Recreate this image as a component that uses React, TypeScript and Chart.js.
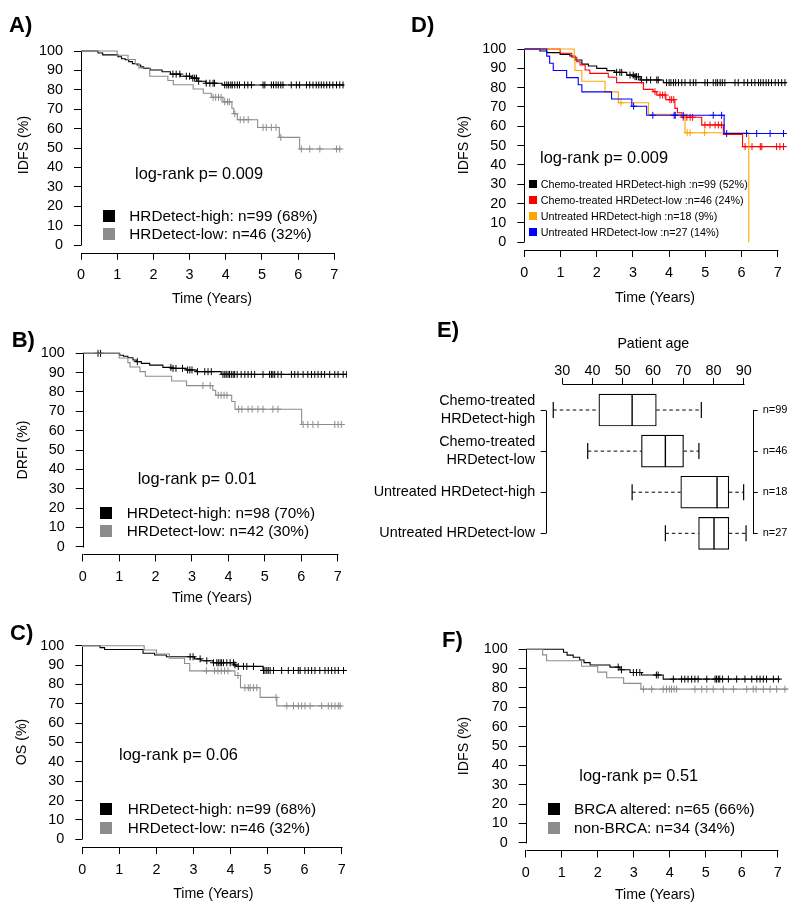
import React, { useEffect, useRef } from 'react';
import { Chart, registerables } from 'chart.js';
Chart.register(...registerables);

const FONT = '"Liberation Sans", Arial, Helvetica, sans-serif';
Chart.defaults.font.family = FONT;

const BLACK = '#000000';
const GREY = '#8c8c8c';
const RED = '#ff0000';
const ORANGE = '#ffa500';
const BLUE = '#0000ff';

const X_TICKS = [0, 1, 2, 3, 4, 5, 6, 7];
const Y_TICKS = [0, 10, 20, 30, 40, 50, 60, 70, 80, 90, 100];
const AGE_TICKS = [30, 40, 50, 60, 70, 80, 90];

// ---------- Panel A (IDFS) ----------
const A_HIGH_T = [0, 0.47, 0.6, 1.02, 1.12, 1.22, 1.32, 1.42, 1.55, 1.65, 1.73, 1.91, 2.24, 2.47, 2.75, 3.05, 3.23, 3.45, 3.9, 7.28];
const A_HIGH_S = [100, 99, 98, 97, 96, 95.5, 94.5, 93.5, 92.8, 91.8, 91, 90.2, 89.3, 88.1, 87, 86, 84.4, 83.4, 82.5, 82.5];
const A_HIGH_C = [2.54, 2.63, 2.73, 2.91, 3.0, 3.09, 3.14, 3.19, 3.25, 3.46, 3.56, 3.65, 3.69, 3.97, 4.03, 4.08, 4.14, 4.18, 4.25, 4.32, 4.38, 4.52, 4.61, 4.71, 5.03, 5.08, 5.26, 5.32, 5.39, 5.45, 5.52, 5.58, 5.81, 5.95, 6.04, 6.23, 6.32, 6.41, 6.5, 6.57, 6.64, 6.71, 6.79, 6.87, 6.96, 7.06, 7.15, 7.24];
const A_LOW_T = [0, 1.0, 1.3, 1.5, 1.6, 1.9, 2.4, 2.55, 3.1, 3.38, 3.6, 3.92, 4.17, 4.22, 4.32, 4.88, 5.48, 6.04, 7.2];
const A_LOW_S = [100, 97.8, 95.6, 93.5, 91.3, 87.0, 84.8, 82.6, 80.4, 78.2, 76.1, 73.8, 70.5, 67.7, 64.6, 60.6, 55.5, 49.5, 49.5];
const A_LOW_C = [3.65, 3.72, 3.8, 3.87, 3.97, 4.05, 4.1, 4.25, 4.4, 4.5, 4.62, 5.03, 5.12, 5.26, 5.39, 5.52, 6.09, 6.32, 6.6, 7.06, 7.15];

// ---------- Panel B (DRFI) ----------
const B_HIGH_T = [0, 1.015, 1.12, 1.24, 1.38, 1.47, 1.61, 1.84, 2.2, 2.45, 2.84, 3.12, 3.8, 7.25];
const B_HIGH_S = [100, 99, 98.5, 97.7, 96.5, 95.7, 94.8, 93.9, 92.7, 92.2, 91.4, 90.5, 89.1, 89.1];
const B_HIGH_C = [0.42, 0.49, 1.5, 2.42, 2.48, 2.56, 2.74, 2.88, 2.94, 3.0, 3.15, 3.35, 3.44, 3.53, 3.85, 3.9, 3.94, 3.99, 4.03, 4.08, 4.13, 4.17, 4.24, 4.35, 4.45, 4.54, 4.63, 4.72, 4.95, 5.13, 5.18, 5.22, 5.27, 5.36, 5.45, 5.73, 5.82, 5.91, 6.05, 6.18, 6.28, 6.37, 6.46, 6.55, 6.64, 6.78, 6.92, 7.01, 7.15, 7.24];
const B_LOW_T = [0, 1.0, 1.24, 1.3, 1.57, 1.72, 2.44, 2.85, 3.57, 3.65, 4.09, 4.18, 6.01, 7.15];
const B_LOW_S = [100, 97.6, 95.2, 92.9, 90.5, 88.1, 85.7, 83.3, 80.9, 78.3, 75.1, 71.1, 63.2, 63.2];
const B_LOW_C = [3.3, 3.5, 3.72, 3.8, 3.88, 3.96, 4.28, 4.37, 4.54, 4.65, 4.81, 4.95, 5.22, 5.36, 6.05, 6.18, 6.32, 6.46, 6.92, 7.01, 7.1];

// ---------- Panel C (OS) ----------
const C_HIGH_T = [0, 0.48, 0.6, 1.64, 1.95, 2.27, 3.03, 3.2, 3.53, 4.1, 4.15, 4.88, 7.14];
const C_HIGH_S = [100, 99, 98, 96.1, 95.2, 94.3, 93.2, 92.2, 91.2, 90.1, 89.3, 87.2, 87.2];
const C_HIGH_C = [2.91, 2.99, 3.18, 3.36, 3.54, 3.63, 3.67, 3.72, 3.76, 3.81, 3.9, 3.99, 4.08, 4.12, 4.21, 4.35, 4.44, 4.62, 4.89, 4.93, 4.98, 5.02, 5.07, 5.16, 5.38, 5.56, 5.7, 5.83, 5.88, 6.01, 6.1, 6.19, 6.28, 6.41, 6.55, 6.64, 6.73, 6.82, 6.91, 7.05];
const C_LOW_T = [0, 1.67, 2.0, 2.35, 2.76, 2.9, 4.12, 4.27, 4.8, 5.25, 7.0];
const C_LOW_S = [100, 97.8, 95.7, 93.5, 90.8, 87.0, 84.6, 78.3, 73.3, 68.9, 68.9];
const C_LOW_C = [3.35, 3.57, 3.66, 3.75, 3.84, 3.93, 4.2, 4.39, 4.48, 4.53, 4.62, 4.71, 5.23, 5.52, 5.7, 5.83, 5.92, 6.01, 6.15, 6.46, 6.64, 6.73, 6.82, 6.91, 6.96];

// ---------- Panel D (IDFS, 4 groups) ----------
const D_BLACK_T = [0, 0.43, 0.62, 0.99, 1.26, 1.4, 1.59, 1.77, 2.0, 2.28, 2.5, 2.83, 3.06, 3.2, 3.84, 7.26];
const D_BLACK_S = [100, 99, 98.1, 97.2, 96.4, 94.3, 92.2, 91.2, 90, 88.8, 87.9, 86.5, 85.7, 84, 82.6, 82.6];
const D_BLACK_C = [2.55, 2.64, 2.69, 2.92, 3.01, 3.06, 3.1, 3.15, 3.24, 3.38, 3.49, 3.66, 3.7, 3.93, 4.0, 4.05, 4.12, 4.18, 4.26, 4.35, 4.44, 4.58, 4.67, 4.74, 4.99, 5.06, 5.22, 5.29, 5.34, 5.41, 5.47, 5.54, 5.82, 5.91, 6.07, 6.17, 6.28, 6.37, 6.47, 6.53, 6.6, 6.68, 6.75, 6.83, 6.93, 7.02, 7.11, 7.2];
const D_RED_T = [0, 0.99, 1.31, 1.45, 1.54, 1.68, 1.81, 2.32, 2.55, 3.29, 3.56, 3.66, 3.91, 4.16, 4.23, 4.35, 4.9, 5.5, 6.03, 7.2];
const D_RED_S = [100, 97.8, 95.7, 93.4, 91.7, 89.1, 87.4, 85.4, 82.6, 79.1, 77.9, 76.2, 73.8, 69.3, 67, 64.7, 60.7, 55.8, 49.5, 49.5];
const D_RED_C = [3.61, 3.75, 3.82, 3.89, 4.02, 4.07, 4.13, 4.39, 4.49, 4.58, 4.65, 4.99, 5.13, 5.27, 5.36, 5.45, 6.1, 6.29, 6.52, 6.56, 6.97, 7.06, 7.16];
const D_ORANGE_T = [0, 1.38, 1.4, 1.59, 2.23, 2.6, 3.43, 4.44, 6.2];
const D_ORANGE_S = [100, 94.4, 88.9, 83.3, 77.8, 72.2, 66.2, 56.7, 0];
const D_ORANGE_C = [2.67, 4.5, 4.58, 4.98];
const D_BLUE_T = [0, 0.62, 0.7, 0.8, 1.17, 1.49, 1.59, 2.41, 2.97, 3.38, 5.52, 7.2];
const D_BLUE_S = [100, 96.3, 92.6, 88.9, 85.2, 81.5, 77.8, 74.1, 70.4, 65.7, 56.3, 56.3];
const D_BLUE_C = [3.02, 3.55, 4.14, 4.17, 4.39, 5.22, 5.45, 5.59, 6.14, 6.42, 6.79, 7.16];

// ---------- Panel E (age boxplot) ----------
const E_ROWS = [['Chemo-treated', 'HRDetect-high'], ['Chemo-treated', 'HRDetect-low'], 'Untreated HRDetect-high', 'Untreated HRDetect-low'];
const E_N = ['n=99', 'n=46', 'n=18', 'n=27'];
const E_LOW = [27.0, 38.4, 53.1, 64.1];
const E_Q1 = [42.1, 56.2, 69.2, 75.1];
const E_MED = [53.1, 64.1, 81.2, 80.2];
const E_Q3 = [61.1, 70.1, 85.1, 85.1];
const E_HIGH = [76.0, 75.2, 90.0, 90.8];

// ---------- Panel F (IDFS by BRCA) ----------
const F_BLACK_T = [0, 1.05, 1.15, 1.32, 1.5, 1.62, 1.79, 2.34, 2.62, 2.9, 3.22, 3.82, 7.06];
const F_BLACK_S = [100, 98.5, 97, 95.9, 94.5, 93.1, 91.9, 90.8, 89.4, 88, 86.7, 84.6, 84.6];
const F_BLACK_C = [2.57, 2.66, 2.99, 3.08, 3.17, 3.63, 3.68, 4.1, 4.33, 4.42, 4.51, 4.61, 4.7, 4.79, 5.03, 5.26, 5.3, 5.35, 5.39, 5.47, 5.63, 5.86, 6.09, 6.28, 6.42, 6.51, 6.6, 6.69, 6.88, 7.02];
const F_GREY_T = [0, 0.47, 0.58, 1.55, 2.0, 2.25, 2.72, 3.2, 7.29];
const F_GREY_S = [100, 97.1, 94.1, 91.2, 88.2, 85.3, 82.4, 79.4, 79.4];
const F_GREY_C = [3.27, 3.5, 3.82, 3.91, 3.99, 4.05, 4.12, 4.19, 4.7, 4.89, 5.03, 5.21, 5.49, 5.77, 6.14, 6.32, 6.4, 6.6, 6.79, 6.97, 7.2];

type Curve = { t: number[]; s: number[]; c: number[]; color: string };
type Geo = { rect: [number, number, number, number]; x0: number; ppy: number; y100: number; y0: number; xmax: number };
type Seg = { scale: string; from: number; to: number; edge: 'left' | 'right' | 'top' | 'bottom' };

function survAt(t: number[], s: number[], x: number) {
  let v = s[0];
  for (let i = 0; i < t.length; i++) if (t[i] <= x) v = s[i];
  return v;
}

function axesPlugin(segs: Seg[]) {
  return {
    id: 'rAxes',
    afterDraw(chart: any) {
      const ctx = chart.ctx;
      const ca = chart.chartArea;
      ctx.save();
      ctx.strokeStyle = BLACK;
      ctx.lineWidth = 1;
      ctx.setLineDash([]);
      for (const sg of segs) {
        const sc = chart.scales[sg.scale];
        const a = sc.getPixelForValue(sg.from);
        const b = sc.getPixelForValue(sg.to);
        ctx.beginPath();
        if (sg.edge === 'top' || sg.edge === 'bottom') {
          const y = Math.round(sg.edge === 'top' ? ca.top : ca.bottom) + 0.5;
          ctx.moveTo(Math.round(a) + 0.5, y);
          ctx.lineTo(Math.round(b) + 0.5, y);
        } else {
          const x = Math.round(sg.edge === 'left' ? ca.left : ca.right) + 0.5;
          ctx.moveTo(x, Math.round(a) + 0.5);
          ctx.lineTo(x, Math.round(b) + 0.5);
        }
        ctx.stroke();
      }
      ctx.restore();
    },
  };
}

const tickGrid = (len: number) => ({ display: true, drawOnChartArea: false, drawTicks: true, tickLength: len, color: BLACK, lineWidth: 1, offset: false });

function kmConfig(geo: Geo, curves: Curve[]): any {
  const unit = (geo.y0 - geo.y100) / 100;
  const top = geo.y100 - 4 * unit;
  const bottom = geo.y0 + 4 * unit;
  const right = geo.x0 + geo.xmax * geo.ppy;
  const [rl, rt, rw, rh] = geo.rect;
  const WY = 55;
  const HX = 40;
  const padding = { left: geo.x0 - WY - rl, top: top - rt, right: rl + rw - right, bottom: rt + rh - bottom - HX };
  const datasets: any[] = [];
  curves.forEach((c, i) => {
    const order = curves.length - i;
    datasets.push({
      data: c.t.map((t, j) => ({ x: t, y: c.s[j] })),
      showLine: true, stepped: true, borderColor: c.color, borderWidth: 1.1,
      pointRadius: 0, pointHoverRadius: 0, fill: false, order,
    });
    datasets.push({
      data: c.c.map((t) => ({ x: t, y: survAt(c.t, c.s, t) })),
      showLine: false, pointStyle: 'cross', pointRadius: 3.5, pointHoverRadius: 3.5,
      pointBorderColor: c.color, pointBackgroundColor: c.color, pointBorderWidth: 1, order,
    });
  });
  const tickFont = { family: FONT, size: 14.4 };
  return {
    type: 'scatter',
    data: { datasets },
    options: {
      responsive: false, animation: false, events: [],
      layout: { padding },
      plugins: { legend: { display: false }, tooltip: { enabled: false } },
      scales: {
        x: {
          type: 'linear', min: 0, max: geo.xmax, position: 'bottom', offset: false,
          afterBuildTicks: (s: any) => { s.ticks = X_TICKS.map((v) => ({ value: v })); },
          afterFit: (s: any) => { s.height = HX; },
          grid: tickGrid(7), border: { display: false },
          ticks: { font: tickFont, color: BLACK, padding: 7, maxRotation: 0, autoSkip: false, callback: (v: any) => String(v) },
        },
        y: {
          type: 'linear', min: -4, max: 104, position: 'left', offset: false,
          afterBuildTicks: (s: any) => { s.ticks = Y_TICKS.map((v) => ({ value: v })); },
          afterFit: (s: any) => { s.width = WY; },
          grid: tickGrid(7), border: { display: false },
          ticks: { font: tickFont, color: BLACK, padding: 11, autoSkip: false, callback: (v: any) => String(v) },
        },
      },
    },
    plugins: [axesPlugin([
      { scale: 'x', from: 0, to: 7, edge: 'bottom' },
      { scale: 'y', from: 0, to: 100, edge: 'left' },
    ])],
  };
}

const E_RECT: [number, number, number, number] = [360, 320, 440, 266];

function boxConfig(): any {
  const [rl, rt, rw, rh] = E_RECT;
  const left = 545.7, right = 752.7, top = 384;
  const yMin = 0.367, yMax = 4.633, rowPx = 41.1;
  const bottom = top + (yMax - yMin) * rowPx;
  const HT = top - rt;
  const WL = left - rl;
  const WR = rl + rw - right;
  const padding = { left: 0, top: 0, right: 0, bottom: rt + rh - bottom };
  const datasets: any[] = [];
  datasets.push({
    type: 'scatter', data: E_MED.map((m, i) => ({ x: m, y: i + 1 })), showLine: false,
    pointStyle: 'line', pointRotation: 90, pointRadius: 16, pointHoverRadius: 16,
    pointBorderColor: BLACK, pointBorderWidth: 1.4, order: 0, xAxisID: 'x', yAxisID: 'y',
  });
  datasets.push({
    type: 'bar', data: E_Q1.map((q, i) => ({ y: i + 1, x: [q, E_Q3[i]] })),
    backgroundColor: '#ffffff', borderColor: BLACK, borderWidth: 1.2, borderSkipped: false,
    barThickness: 32, order: 1, xAxisID: 'x', yAxisID: 'y',
  });
  E_LOW.forEach((lo, i) => {
    datasets.push({
      type: 'line', data: [{ x: lo, y: i + 1 }, { x: E_Q1[i], y: i + 1 }],
      borderColor: BLACK, borderWidth: 1, borderDash: [3.5, 3], fill: false,
      pointStyle: 'line', pointRotation: 90, pointRadius: [8, 0], pointHoverRadius: 0,
      pointBorderColor: BLACK, pointBorderWidth: 1.2, order: 2, xAxisID: 'x', yAxisID: 'y',
    });
    datasets.push({
      type: 'line', data: [{ x: E_Q3[i], y: i + 1 }, { x: E_HIGH[i], y: i + 1 }],
      borderColor: BLACK, borderWidth: 1, borderDash: [3.5, 3], fill: false,
      pointStyle: 'line', pointRotation: 90, pointRadius: [0, 8], pointHoverRadius: 0,
      pointBorderColor: BLACK, pointBorderWidth: 1.2, order: 2, xAxisID: 'x', yAxisID: 'y',
    });
  });
  const rowTicks = (s: any) => { s.ticks = [1, 2, 3, 4].map((v) => ({ value: v })); };
  return {
    type: 'bar',
    data: { datasets },
    options: {
      indexAxis: 'y', responsive: false, animation: false, events: [],
      layout: { padding },
      plugins: { legend: { display: false }, tooltip: { enabled: false } },
      scales: {
        x: {
          type: 'linear', position: 'top', min: 24.5, max: 93, offset: false, beginAtZero: false,
          afterBuildTicks: (s: any) => { s.ticks = AGE_TICKS.map((v) => ({ value: v })); },
          afterFit: (s: any) => { s.height = HT; },
          grid: tickGrid(6), border: { display: false },
          ticks: { font: { family: FONT, size: 14.4 }, color: BLACK, padding: -2, maxRotation: 0, autoSkip: false, callback: (v: any) => String(v) },
        },
        y: {
          type: 'linear', position: 'left', min: yMin, max: yMax, reverse: true, offset: false, beginAtZero: false,
          afterBuildTicks: rowTicks,
          afterFit: (s: any) => { s.width = WL; },
          grid: tickGrid(5), border: { display: false },
          ticks: { font: { family: FONT, size: 14.4 }, color: BLACK, padding: 5.5, autoSkip: false, callback: (v: any) => E_ROWS[Math.round(v) - 1] },
        },
        y2: {
          type: 'linear', position: 'right', min: yMin, max: yMax, reverse: true, offset: false, beginAtZero: false,
          afterBuildTicks: rowTicks,
          afterFit: (s: any) => { s.width = WR; },
          grid: tickGrid(5), border: { display: false },
          ticks: { font: { family: FONT, size: 11 }, color: BLACK, padding: 5, autoSkip: false, callback: (v: any) => E_N[Math.round(v) - 1] },
        },
      },
    },
    plugins: [axesPlugin([
      { scale: 'x', from: 30, to: 90, edge: 'top' },
      { scale: 'y', from: 1, to: 4, edge: 'left' },
      { scale: 'y2', from: 1, to: 4, edge: 'right' },
    ])],
  };
}

const GEO_A: Geo = { rect: [0, 0, 400, 305], x0: 81, ppy: 36.19, y100: 51, y0: 245, xmax: 7.28 };
const GEO_B: Geo = { rect: [0, 305, 400, 300], x0: 82.7, ppy: 36.43, y100: 353.3, y0: 546.7, xmax: 7.25 };
const GEO_C: Geo = { rect: [0, 605, 400, 306], x0: 82.3, ppy: 37.05, y100: 645.7, y0: 839.3, xmax: 7.14 };
const GEO_D: Geo = { rect: [400, 0, 400, 305], x0: 524.3, ppy: 36.2, y100: 49, y0: 242.3, xmax: 7.26 };
const GEO_F: Geo = { rect: [400, 605, 400, 306], x0: 525.7, ppy: 36.0, y100: 649.3, y0: 842.7, xmax: 7.3 };

function ChartCanvas({ rect, make }: { rect: [number, number, number, number]; make: () => any }) {
  const ref = useRef<HTMLCanvasElement>(null);
  useEffect(() => {
    const chart = new Chart(ref.current as HTMLCanvasElement, make());
    return () => chart.destroy();
  }, []);
  return (
    <canvas ref={ref} width={rect[2]} height={rect[3]}
      style={{ position: 'absolute', left: rect[0], top: rect[1], width: rect[2], height: rect[3] }} />
  );
}

function T({ x, y, text, size = 14.4, bold = false, anchor = 'left', rot = false }:
  { x: number; y: number; text: string; size?: number; bold?: boolean; anchor?: 'left' | 'center' | 'right'; rot?: boolean }) {
  const tx = rot ? '-50%' : anchor === 'left' ? '0' : anchor === 'center' ? '-50%' : '-100%';
  return (
    <div style={{
      position: 'absolute', left: x, top: y, fontFamily: FONT, fontSize: size, fontWeight: bold ? 'bold' : 'normal',
      lineHeight: 1, whiteSpace: 'pre', color: BLACK,
      transform: `translate(${tx}, -50%)${rot ? ' rotate(-90deg)' : ''}`,
    }}>{text}</div>
  );
}

function Sq({ x, y, size, color }: { x: number; y: number; size: number; color: string }) {
  return <div style={{ position: 'absolute', left: x, top: y - size / 2, width: size, height: size, background: color }} />;
}

export default function App() {
  const LEG = 15.3;
  const PV = 16.4;
  const LET = 22;
  const TTL = 14.2;
  return (
    <div style={{ position: 'absolute', left: 0, top: 0, width: 800, height: 911, background: '#ffffff', overflow: 'hidden' }}>
      <ChartCanvas rect={GEO_A.rect} make={() => kmConfig(GEO_A, [
        { t: A_HIGH_T, s: A_HIGH_S, c: A_HIGH_C, color: BLACK },
        { t: A_LOW_T, s: A_LOW_S, c: A_LOW_C, color: GREY },
      ])} />
      <ChartCanvas rect={GEO_B.rect} make={() => kmConfig(GEO_B, [
        { t: B_HIGH_T, s: B_HIGH_S, c: B_HIGH_C, color: BLACK },
        { t: B_LOW_T, s: B_LOW_S, c: B_LOW_C, color: GREY },
      ])} />
      <ChartCanvas rect={GEO_C.rect} make={() => kmConfig(GEO_C, [
        { t: C_HIGH_T, s: C_HIGH_S, c: C_HIGH_C, color: BLACK },
        { t: C_LOW_T, s: C_LOW_S, c: C_LOW_C, color: GREY },
      ])} />
      <ChartCanvas rect={GEO_D.rect} make={() => kmConfig(GEO_D, [
        { t: D_BLACK_T, s: D_BLACK_S, c: D_BLACK_C, color: BLACK },
        { t: D_RED_T, s: D_RED_S, c: D_RED_C, color: RED },
        { t: D_ORANGE_T, s: D_ORANGE_S, c: D_ORANGE_C, color: ORANGE },
        { t: D_BLUE_T, s: D_BLUE_S, c: D_BLUE_C, color: BLUE },
      ])} />
      <ChartCanvas rect={E_RECT} make={boxConfig} />
      <ChartCanvas rect={GEO_F.rect} make={() => kmConfig(GEO_F, [
        { t: F_BLACK_T, s: F_BLACK_S, c: F_BLACK_C, color: BLACK },
        { t: F_GREY_T, s: F_GREY_S, c: F_GREY_C, color: GREY },
      ])} />

      {/* Panel A */}
      <T x={9} y={25} text="A)" size={LET} bold />
      <T x={135} y={173} text="log-rank p= 0.009" size={PV} />
      <Sq x={103} y={215.7} size={12} color={BLACK} />
      <T x={129.3} y={215.7} text="HRDetect-high: n=99 (68%)" size={LEG} />
      <Sq x={103} y={234} size={12} color={GREY} />
      <T x={129.3} y={234} text="HRDetect-low: n=46 (32%)" size={LEG} />
      <T x={212} y={298} text="Time (Years)" size={TTL} anchor="center" />
      <T x={23} y={145} text="IDFS (%)" size={TTL} rot />

      {/* Panel B */}
      <T x={11.7} y={340} text="B)" size={LET} bold />
      <T x={137.7} y={478} text="log-rank p= 0.01" size={PV} />
      <Sq x={100} y={513.3} size={12} color={BLACK} />
      <T x={126.7} y={513.3} text="HRDetect-high: n=98 (70%)" size={LEG} />
      <Sq x={100} y={531} size={12} color={GREY} />
      <T x={126.7} y={531} text="HRDetect-low: n=42 (30%)" size={LEG} />
      <T x={212} y={597} text="Time (Years)" size={TTL} anchor="center" />
      <T x={22} y={450} text="DRFI (%)" size={TTL} rot />

      {/* Panel C */}
      <T x={10} y={632.5} text="C)" size={LET} bold />
      <T x={119} y={753.5} text="log-rank p= 0.06" size={PV} />
      <Sq x={100} y={809.3} size={12} color={BLACK} />
      <T x={127.7} y={809.3} text="HRDetect-high: n=99 (68%)" size={LEG} />
      <Sq x={100} y={828} size={12} color={GREY} />
      <T x={127.7} y={828} text="HRDetect-low: n=46 (32%)" size={LEG} />
      <T x={213.3} y={893.3} text="Time (Years)" size={TTL} anchor="center" />
      <T x={20.7} y={741.7} text="OS (%)" size={TTL} rot />

      {/* Panel D */}
      <T x={411} y={25} text="D)" size={LET} bold />
      <T x={540} y={156.5} text="log-rank p= 0.009" size={PV} />
      <Sq x={529.3} y={184.3} size={8} color={BLACK} />
      <T x={540.7} y={184.3} text="Chemo-treated HRDetect-high :n=99 (52%)" size={10.75} />
      <Sq x={529.3} y={200} size={8} color={RED} />
      <T x={540.7} y={200} text="Chemo-treated HRDetect-low :n=46 (24%)" size={10.75} />
      <Sq x={529.3} y={216} size={8} color={ORANGE} />
      <T x={540.7} y={216} text="Untreated HRDetect-high :n=18 (9%)" size={10.75} />
      <Sq x={529.3} y={231.7} size={8} color={BLUE} />
      <T x={540.7} y={231.7} text="Untreated HRDetect-low :n=27 (14%)" size={10.75} />
      <T x={655} y={296.7} text="Time (Years)" size={TTL} anchor="center" />
      <T x={463.3} y={145} text="IDFS (%)" size={TTL} rot />

      {/* Panel E */}
      <T x={437} y={330} text="E)" size={LET} bold />
      <T x={653.3} y={343.3} text="Patient age" size={TTL} anchor="center" />

      {/* Panel F */}
      <T x={442} y={639.5} text="F)" size={LET} bold />
      <T x={579.3} y={774.5} text="log-rank p= 0.51" size={PV} />
      <Sq x={548} y={809.3} size={12} color={BLACK} />
      <T x={574} y={809.3} text="BRCA altered: n=65 (66%)" size={LEG} />
      <Sq x={548} y={827.7} size={12} color={GREY} />
      <T x={574} y={827.7} text="non-BRCA: n=34 (34%)" size={LEG} />
      <T x={655} y={894} text="Time (Years)" size={TTL} anchor="center" />
      <T x={463.3} y={745.7} text="IDFS (%)" size={TTL} rot />
    </div>
  );
}
